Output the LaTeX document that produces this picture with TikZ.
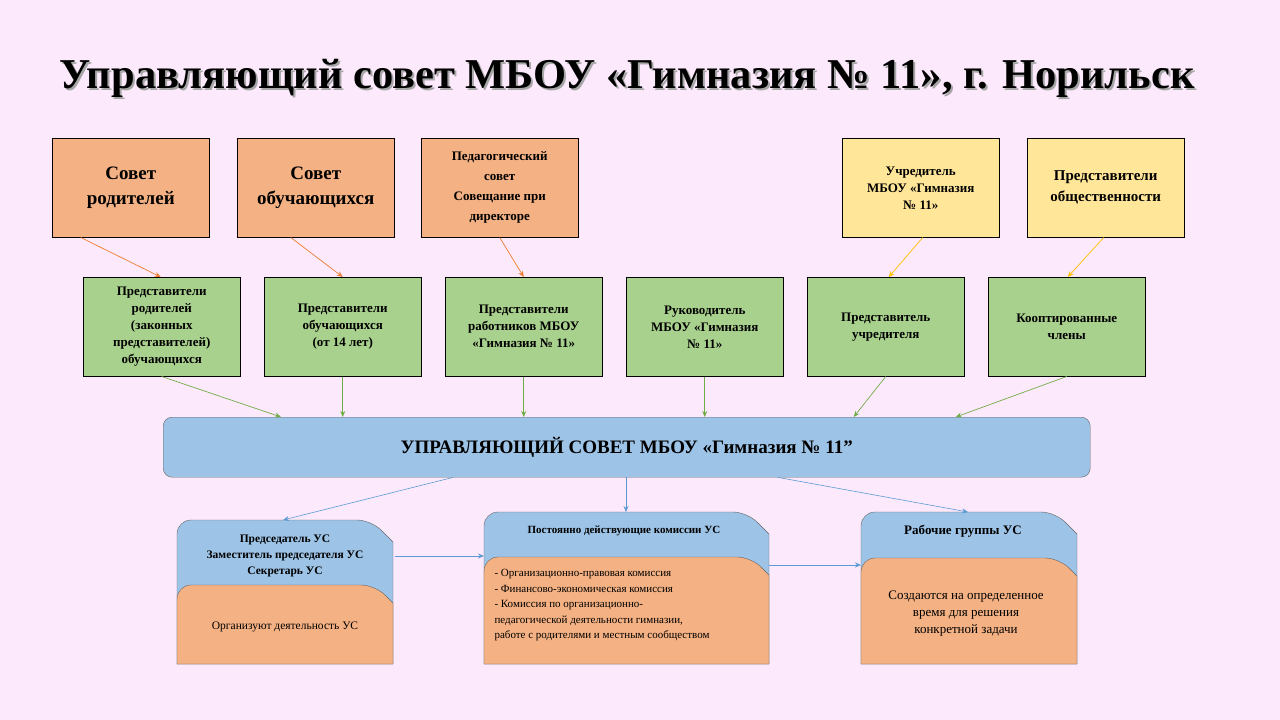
\documentclass[tikz,border=0pt]{standalone}
\usepackage{fontspec}
\setmainfont{Liberation Serif}
\usetikzlibrary{arrows.meta,calc}
\definecolor{bgc}{HTML}{FCE9FB}
\definecolor{orc}{HTML}{F4B183}
\definecolor{grc}{HTML}{A9D18E}
\definecolor{yec}{HTML}{FFE699}
\definecolor{blc}{HTML}{9DC3E6}
\definecolor{oarr}{HTML}{ED7D31}
\definecolor{garr}{HTML}{70AD47}
\definecolor{yarr}{HTML}{FFC000}
\definecolor{barr}{HTML}{5B9BD5}
\tikzset{
  topbox/.style={draw=black,line width=0.5pt,minimum width=157pt,minimum height=99pt,align=center,inner sep=2pt,anchor=north west,font=\bfseries},
  grbox/.style={topbox,fill=grc,font=\bfseries\fontsize{13}{17}\selectfont},
  arr/.style={-{Stealth[length=6pt,width=5pt]},line width=0.7pt},
}
\begin{document}
\begin{tikzpicture}[x=1pt,y=-1pt]
\fill[bgc] (0,0) rectangle (1280,720);
\useasboundingbox (0,0) rectangle (1280,720);
% title
\node[font=\bfseries\fontsize{42.5}{48}\selectfont,text=gray!70] at (629,80) {Управляющий совет МБОУ «Гимназия № 11», г. Норильск};
\node (title)[font=\bfseries\fontsize{42.5}{48}\selectfont] at (627,78) {Управляющий совет МБОУ «Гимназия № 11», г. Норильск};
% top row
\node (t1)[topbox,fill=orc,font=\bfseries\fontsize{19}{25}\selectfont] at (52,138) {Совет\\родителей};
\node (t2)[topbox,fill=orc,font=\bfseries\fontsize{19}{25}\selectfont] at (237,138) {Совет\\обучающихся};
\node (t3)[topbox,fill=orc,font=\bfseries\fontsize{13}{20}\selectfont] at (421,138) {Педагогический\\совет\\Совещание при\\директоре};
\node (t4)[topbox,fill=yec,font=\bfseries\fontsize{13}{17}\selectfont] at (842,138) {Учредитель\\МБОУ «Гимназия\\№ 11»};
\node (t5)[topbox,fill=yec,font=\bfseries\fontsize{15}{21}\selectfont] at (1027,138) {Представители\\общественности};
% green row
\node (g1)[grbox] at (83,277) {Представители\\родителей\\(законных\\представителей)\\обучающихся};
\node (g2)[grbox] at (264,277) {Представители\\обучающихся\\(от 14 лет)};
\node (g3)[grbox] at (445,277) {Представители\\работников МБОУ\\«Гимназия № 11»};
\node (g4)[grbox] at (626,277) {Руководитель\\МБОУ «Гимназия\\№ 11»};
\node (g5)[grbox] at (807,277) {Представитель\\учредителя};
\node (g6)[grbox] at (988,277) {Кооптированные\\члены};
% main bar
\node (bar)[draw=black!60,fill=blc,rounded corners=9pt,minimum width=927pt,minimum height=60pt,anchor=north west,font=\bfseries\fontsize{19}{23}\selectfont] at (163,417) {УПРАВЛЯЮЩИЙ СОВЕТ МБОУ «Гимназия № 11\char"0022};
% arrows top->green
\draw[arr,oarr] ([xshift=-50pt]t1.south) -- ([xshift=-1pt]g1.north);
\draw[arr,oarr] ([xshift=-25pt]t2.south) -- ([xshift=0pt]g2.north);
\draw[arr,oarr] ([xshift=0pt]t3.south) -- ([xshift=0pt]g3.north);
\draw[arr,yarr] ([xshift=2pt]t4.south) -- ([xshift=3pt]g5.north);
\draw[arr,yarr] ([xshift=-2pt]t5.south) -- ([xshift=1pt]g6.north);
% arrows green->bar
\draw[arr,garr] (g1.south) -- ([xshift=118pt]bar.north west);
\draw[arr,garr] (g2.south) -- (g2.south |- bar.north);
\draw[arr,garr] (g3.south) -- (g3.south |- bar.north);
\draw[arr,garr] (g4.south) -- (g4.south |- bar.north);
\draw[arr,garr] (g5.south) -- ([xshift=-32pt]g5.south |- bar.north);
\draw[arr,garr] (g6.south) -- ([xshift=-111pt]g6.south |- bar.north);
% bottom shapes
\newcommand{\tabshape}[6]{% x1,y1,x2,y2,fill,cut
  \filldraw[draw=black!60,fill=#5] (#1,#4) {[rounded corners=14pt] -- (#1,#2) -- (#3-#6,#2)} -- (#3,#2+#6) -- (#3,#4) -- cycle;}
\tabshape{177}{520}{393}{664}{blc}{22}
\tabshape{177}{585}{393}{664}{orc}{18}
\tabshape{484}{512}{769}{664}{blc}{22}
\tabshape{484}{557}{769}{664}{orc}{18}
\tabshape{861}{512}{1077}{664}{blc}{22}
\tabshape{861}{558}{1077}{664}{orc}{18}
\coordinate (b1n) at (283,520); \coordinate (b2n) at (626,512); \coordinate (b3n) at (968,512);
\coordinate (b1e) at (395,556); \coordinate (b2w) at (484,556);
\coordinate (b2e) at (769,565); \coordinate (b3w) at (861,565);
\node (p1)[font=\bfseries\fontsize{11.5}{16}\selectfont,align=center] at (285,556) {Председатель УС\\Заместитель председателя УС\\Секретарь  УС};
\node (o1)[font=\fontsize{11.5}{14}\selectfont] at (285,627) {Организуют деятельность  УС};
\node (p2)[font=\bfseries\fontsize{11}{14}\selectfont] at (624,531) {Постоянно  действующие комиссии УС};
\node (o2)[font=\fontsize{11}{15.5}\selectfont,align=left,anchor=north west] at (491,566) {- Организационно-правовая комиссия\\- Финансово-экономическая комиссия\\- Комиссия по организационно-\\педагогической деятельности гимназии,\\работе с родителями и местным сообществом};
\node (p3)[font=\bfseries\fontsize{13}{16}\selectfont] at (963,531) {Рабочие группы УС};
\node (o3)[font=\fontsize{13}{17}\selectfont,align=center] at (966,614) {Создаются на определенное\\время для решения\\конкретной  задачи};
\draw[arr,barr,line width=0.6pt] ([xshift=290pt]bar.south west) -- (b1n);
\draw[arr,barr,line width=0.6pt] ([xshift=463pt]bar.south west) -- (b2n);
\draw[arr,barr,line width=0.6pt] ([xshift=615pt]bar.south west) -- (b3n);
\draw[arr,barr,line width=0.6pt] (b1e) -- (b2w);
\draw[arr,barr,line width=0.6pt] (b2e) -- (b3w);
\end{tikzpicture}
\end{document}
